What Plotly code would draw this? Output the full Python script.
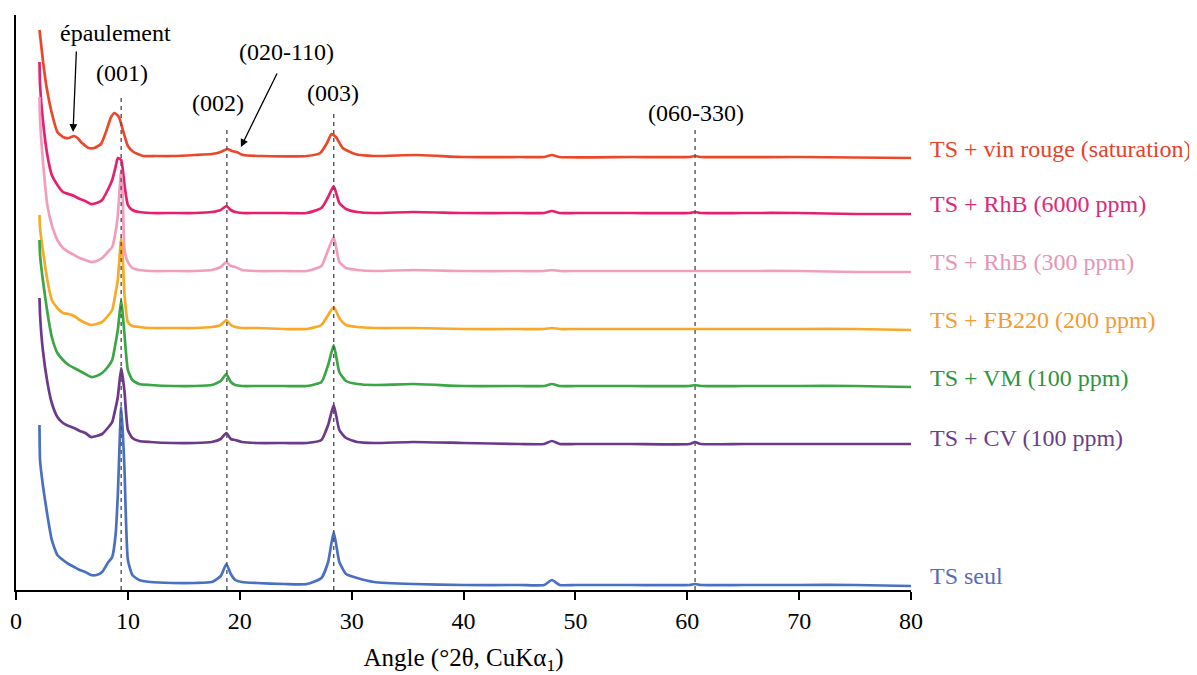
import plotly.graph_objects as go

# ---------------- data (angle in °2θ, intensity in arbitrary stacked units) ----------------
angles = [2.1, 2.15, 2.4, 2.8, 3.2, 3.7, 4.2, 4.7, 5.2, 5.7, 6.2, 6.7, 7.2, 7.7, 8.2, 8.6,
          8.9, 9.1, 9.4, 9.55, 9.7, 10.0, 10.4, 11.0, 12.0, 14.0, 16.0, 17.5, 18.3, 18.8,
          19.2, 19.6, 20.2, 21.5, 24.0, 26.0, 27.3, 27.9, 28.4, 28.9, 29.5, 30.5, 32.0,
          35.5, 40.0, 45.0, 47.2, 47.9, 48.6, 50.0, 55.0, 60.2, 60.7, 61.2, 65.0, 70.0,
          75.0, 80.0]

ts_seul = [165, 130, 105, 75, 50, 35, 30, 26, 23, 20, 18, 15, 15, 18, 27, 33,
           55, 95, 183, 157, 120, 30, 15, 10, 8, 7, 7, 8, 14, 26,
           16, 10, 8, 7, 6, 6, 12, 28, 58, 28, 16, 12, 8,
           6, 5, 5, 5, 10, 5, 5, 5, 5, 6, 5, 5, 5,
           5, 4]

ts_cv = [292, 275, 240, 208, 187, 173, 167, 164, 162, 159, 157, 153, 154, 156, 162, 168,
         182, 193, 222, 212, 198, 160, 152, 149, 148, 147, 147, 148, 151, 157,
         151, 150, 148, 147, 147, 147, 150, 165, 185, 160, 152, 148, 147,
         148, 147, 146, 146, 149, 146, 146, 146, 146, 148, 146, 146, 146,
         146, 146]

ts_vm = [350, 335, 310, 278, 253, 237, 230, 225, 222, 219, 216, 213, 214, 217, 223, 230,
         247, 260, 290, 275, 255, 220, 210, 206, 205, 204, 204, 205, 209, 216,
         208, 205, 204, 204, 204, 204, 208, 225, 245, 218, 209, 206, 205,
         206, 204, 204, 204, 206, 204, 204, 204, 204, 205, 204, 204, 204,
         204, 203]

ts_fb220 = [375, 362, 340, 310, 290, 282, 277, 276, 274, 270, 267, 265, 266, 268, 274, 280,
            297, 310, 352, 330, 295, 268, 264, 263, 262, 262, 262, 263, 265, 270,
            265, 263, 262, 262, 261, 261, 265, 275, 283, 272, 265, 263, 262,
            262, 261, 261, 261, 262, 261, 261, 261, 261, 261, 261, 261, 261,
            261, 260]

ts_rhb300 = [493, 470, 430, 385, 365, 350, 342, 338, 335, 332, 330, 328, 329, 332, 338, 343,
             358, 375, 420, 390, 340, 328, 322, 320, 319, 319, 319, 320, 323, 328,
             324, 323, 320, 319, 319, 319, 324, 340, 353, 328, 322, 320, 319,
             320, 319, 319, 319, 320, 319, 319, 319, 319, 319, 319, 319, 319,
             318, 318]

ts_rhb6000 = [528, 505, 470, 435, 415, 405, 398, 396, 394, 391, 389, 386, 387, 390, 400, 410,
              423, 432, 430, 420, 405, 385, 380, 378, 377, 377, 377, 378, 380, 384,
              380, 378, 377, 377, 377, 377, 382, 393, 404, 387, 381, 378, 377,
              378, 377, 377, 377, 379, 377, 377, 377, 377, 378, 377, 377, 377,
              376, 376]

angles_vin = [2.1, 2.4, 2.7, 3.2, 3.7, 4.2, 4.7, 5.2, 5.5, 5.9, 6.5, 7.0, 7.6, 8.1, 8.5,
              8.8, 9.2, 9.6, 10.0, 10.5, 11.4, 12.5, 14.0, 16.0, 17.5, 18.3, 18.9, 19.3,
              19.7, 20.3, 22.0, 26.0, 27.2, 27.8, 28.2, 28.6, 29.2, 30.3, 32.0, 35.8,
              40.0, 45.0, 47.2, 47.9, 48.6, 55.0, 60.2, 60.7, 61.2, 70.0, 80.0]
ts_vin = [560, 530, 505, 477, 458, 453, 452, 454, 452, 447, 442, 442, 446, 460, 473,
          477, 473, 458, 444, 438, 434, 434, 434, 435, 436, 438, 441, 439,
          438, 435, 434, 434, 437, 447, 456, 453, 442, 436, 434, 435,
          433, 433, 433, 435, 433, 433, 433, 434, 433, 433, 432]

series_names = ["TS + vin rouge (saturation)", "TS + RhB (6000 ppm)", "TS + RhB (300 ppm)",
                "TS + FB220 (200 ppm)", "TS + VM (100 ppm)", "TS + CV (100 ppm)", "TS seul"]
series_x = [angles_vin, angles, angles, angles, angles, angles, angles]
series_y = [ts_vin, ts_rhb6000, ts_rhb300, ts_fb220, ts_vm, ts_cv, ts_seul]
line_colors = ["#EB4829", "#E5206F", "#F39DBE", "#F8A928", "#3AA645", "#6B3A8C", "#4A70C2"]
label_colors = ["#E8412A", "#E0287A", "#E596B4", "#F39C2F", "#2E9540", "#6B3F88", "#5A6CB8"]
label_y = [441, 386, 328, 270, 212, 152, 14]

ref_angles = [9.4, 18.85, 28.4, 60.7]
ref_tops = [495, 462, 477, 460]
ref_labels = ["(001)", "(002)", "(003)", "(060-330)"]
ref_label_x = [9.5, 18.05, 28.35, 60.8]
ref_label_y = [517, 487, 497, 477]

FONT = "Liberation Serif, Times New Roman, serif"
FS = 24

fig = go.Figure()

for name, xs, ys, col in zip(series_names, series_x, series_y, line_colors):
    fig.add_trace(go.Scatter(x=xs, y=ys, mode="lines", name=name,
                             line=dict(color=col, width=2.7, shape="spline", smoothing=0.5),
                             showlegend=False, hoverinfo="x+y+name"))

# dashed reference lines
dx, dy = [], []
for a, t in zip(ref_angles, ref_tops):
    dx += [a, a, None]
    dy += [0, t, None]
fig.add_trace(go.Scatter(x=dx, y=dy, mode="lines", showlegend=False, hoverinfo="skip",
                         line=dict(color="#555555", width=1.4, dash="4px,4px")))

annotations = []
for lab, lx, ly in zip(ref_labels, ref_label_x, ref_label_y):
    annotations.append(dict(x=lx, y=ly, xref="x", yref="y", text=lab, showarrow=False,
                            font=dict(family=FONT, size=FS, color="black")))

# épaulement + arrow
annotations.append(dict(x=8.85, y=557, xref="x", yref="y", text="épaulement", showarrow=False,
                        font=dict(family=FONT, size=FS, color="black")))
annotations.append(dict(x=5.1, y=458, ax=5.4, ay=540, xref="x", yref="y", axref="x", ayref="y",
                        text="", showarrow=True, arrowhead=2, arrowsize=1.2, arrowwidth=1.3,
                        arrowcolor="black"))
# (020-110) + arrow
annotations.append(dict(x=24.2, y=538, xref="x", yref="y", text="(020-110)", showarrow=False,
                        font=dict(family=FONT, size=FS, color="black")))
annotations.append(dict(x=20.1, y=443, ax=23.4, ay=518, xref="x", yref="y", axref="x", ayref="y",
                        text="", showarrow=True, arrowhead=2, arrowsize=1.2, arrowwidth=1.3,
                        arrowcolor="black"))

# series labels (placed just right of the plot area)
for name, col, ly in zip(series_names, label_colors, label_y):
    annotations.append(dict(x=1.0195, y=ly, xref="paper", yref="y", text=name, showarrow=False,
                            xanchor="left", font=dict(family=FONT, size=FS, color=col)))

# the page body adds an 8 px offset, so the figure is 8 px smaller than the window
fig.update_layout(
    width=1189, height=667,
    margin=dict(l=8, r=286, t=7, b=85, autoexpand=False),
    paper_bgcolor="white", plot_bgcolor="white",
    font=dict(family=FONT, size=FS, color="black"),
    annotations=annotations,
    xaxis=dict(range=[0, 80], tickvals=[0, 10, 20, 30, 40, 50, 60, 70, 80],
               showline=True, linecolor="black", linewidth=2, ticks="outside",
               ticklen=8, tickwidth=2, tickcolor="black", showgrid=False, zeroline=False,
               automargin=False,
               tickfont=dict(family=FONT, size=FS, color="black"),
               title=dict(text="Angle (°2θ, CuKα<sub>1</sub>)", standoff=16,
                          font=dict(family=FONT, size=25, color="black"))),
    yaxis=dict(range=[0, 575], showline=True, linecolor="black", linewidth=2,
               automargin=False,
               showticklabels=False, ticks="", showgrid=False, zeroline=False),
)

fig.write_html("out.html")
